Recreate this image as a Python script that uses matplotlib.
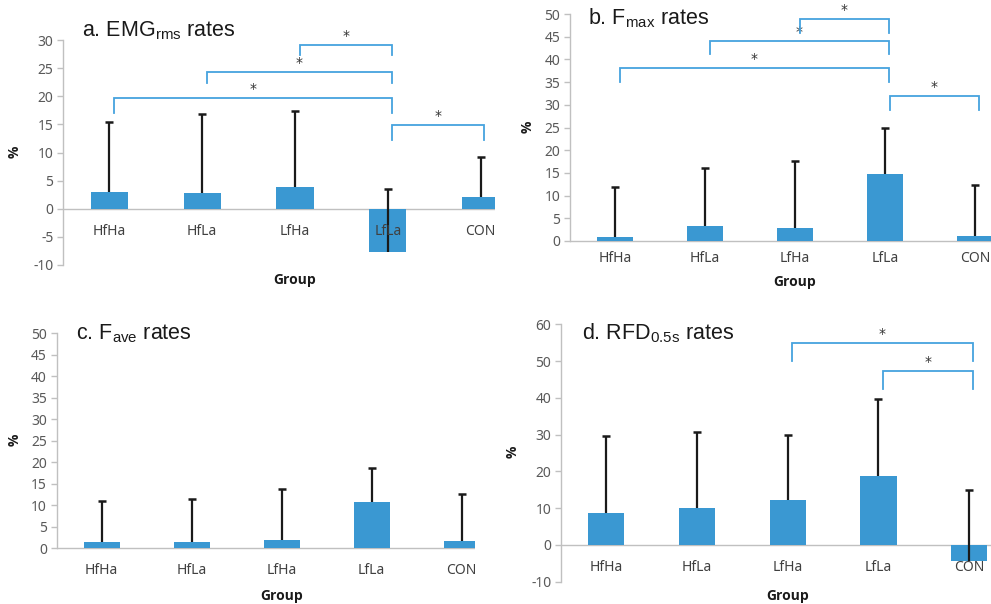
import matplotlib
matplotlib.use("Agg")
import matplotlib.pyplot as plt
import matplotlib.patches as mpatches
import numpy as np

# ---------------- data ----------------
groups = ["HfHa", "HfLa", "LfHa", "LfLa", "CON"]

emg_mean = [3.0, 2.8, 3.8, -7.75, 2.1]
emg_sd = [12.4, 14.0, 13.6, 11.2, 7.1]

fmax_mean = [0.9, 3.3, 2.8, 14.8, 1.0]
fmax_sd = [10.9, 12.8, 14.8, 10.2, 11.4]

fave_mean = [1.4, 1.4, 1.9, 10.7, 1.8]
fave_sd = [9.6, 10.0, 11.8, 7.9, 10.8]

rfd_mean = [8.6, 10.1, 12.2, 18.8, -4.3]
rfd_sd = [21.1, 20.6, 17.7, 20.9, 19.3]

# brackets: (group i, group j, bracket height, leg bottom)
emg_brackets = [(0, 3, 19.7, 17.0), (1, 3, 24.3, 22.4), (2, 3, 29.1, 27.3), (3, 4, 14.9, 12.2)]
fmax_brackets = [(0, 3, 38.2, 35.1), (1, 3, 44.1, 41.1), (2, 3, 49.0, 45.9), (3, 4, 31.9, 28.9)]
fave_brackets = []
rfd_brackets = [(2, 4, 55.0, 50.1), (3, 4, 47.3, 42.4)]

# ---------------- style ----------------
plt.rcParams["mathtext.fontset"] = "custom"
plt.rcParams["mathtext.rm"] = "Liberation Sans"
plt.rcParams["mathtext.it"] = "Liberation Sans:italic"

W, H = 991, 604
BAR = "#3a98d2"
BRK = "#45a3de"
TICKC = "#595959"
AXC = "#c0c0c0"
TICKFONT = "Noto Sans"
BOLDFONT = "Open Sans"

fig = plt.figure(figsize=(W / 100, H / 100), dpi=100)


def fx(px):
    return px / W


def fy(py):
    return 1 - py / H


panels = [
    dict(L=63, S=92.8, R=495, ymax=30, pymax=40, ymin=-10, pymin=265, ticks=np.arange(-10, 31, 5),
         mean=emg_mean, sd=emg_sd, br=emg_brackets, title=r"a. EMG$_{\mathrm{rms}}$ rates",
         tpos=(82, 36), lab_off=23, gy=280, pct=(15, 152)),
    dict(L=570, S=90, R=1020, ymax=50, pymax=14, ymin=0, pymin=241, ticks=np.arange(0, 51, 5),
         mean=fmax_mean, sd=fmax_sd, br=fmax_brackets, title=r"b. F$_{\mathrm{max}}$ rates",
         tpos=(588, 24), lab_off=18, gy=282, pct=(528, 127)),
    dict(L=56.7, S=90, R=475, ymax=50, pymax=333.3, ymin=0, pymin=548.3, ticks=np.arange(0, 51, 5),
         mean=fave_mean, sd=fave_sd, br=fave_brackets, title=r"c. F$_{\mathrm{ave}}$ rates",
         tpos=(76, 339), lab_off=22, gy=596, pct=(15, 440)),
    dict(L=561, S=90.7, R=1014.5, ymax=60, pymax=324.3, ymin=-10, pymin=581.7, ticks=np.arange(-10, 61, 10),
         mean=rfd_mean, sd=rfd_sd, br=rfd_brackets, title=r"d. RFD$_{\mathrm{0.5s}}$ rates",
         tpos=(582, 339), lab_off=23, gy=596, pct=(513, 452)),
]

for p in panels:
    L, S, R = p["L"], p["S"], p["R"]
    full_R = L + 5 * S
    ax = fig.add_axes([fx(L), fy(p["pymin"]), fx(full_R) - fx(L), fy(p["pymax"]) - fy(p["pymin"])])
    ax.set_xlim(-0.5, 4.5)
    ax.set_ylim(p["ymin"], p["ymax"])
    clip_w = (R - L) / (full_R - L)
    ax.patch.set_visible(False)
    x = np.arange(len(groups))
    mean = np.array(p["mean"])
    sd = np.array(p["sd"])
    ax.bar(x, mean, width=0.4, color=BAR, zorder=2)
    ax.axhline(0, color=AXC, lw=1.0, zorder=1)
    ax.vlines(x, mean, mean + sd, color="#1a1a1a", lw=1.6, zorder=3)
    ax.plot(x, mean + sd, ls="none", marker="_", ms=6, mew=1.8, color="#1a1a1a", zorder=3)

    for (i, j, ytop, ybot) in p["br"]:
        xi, xj = i + 0.05, j + 0.04
        ax.plot([xi, xi, xj, xj], [ybot, ytop, ytop, ybot], color=BRK, lw=1.3, zorder=3,
                solid_joinstyle="miter")
        ax.annotate("*", ((xi + xj) / 2, ytop), xytext=(0, 5), textcoords="offset pixels",
                    ha="center", va="baseline", fontsize=10, color="#333333", family="DejaVu Sans",
                    annotation_clip=False)

    clip_rect = mpatches.Rectangle((0, -1), clip_w, 3, transform=ax.transAxes)
    for art in ax.patches + ax.lines + ax.collections:
        art.set_clip_path(clip_rect)

    for sp in ["top", "right", "bottom"]:
        ax.spines[sp].set_visible(False)
    ax.spines["left"].set_color(AXC)
    ax.spines["left"].set_linewidth(1.0)
    ax.set_yticks(p["ticks"])
    ax.set_yticklabels([str(int(t)) for t in p["ticks"]], fontsize=10, color=TICKC, family=TICKFONT)
    ax.tick_params(axis="y", direction="out", length=4, width=1.0, color=AXC, pad=3)
    ax.set_xticks([])

    for i, g in enumerate(groups):
        if L + (i + 0.5) * S < R + 5:
            ax.annotate(g, (i, 0), xytext=(0, -p["lab_off"]), textcoords="offset pixels",
                        ha="center", va="center", fontsize=10, color="#404040", family=TICKFONT,
                        annotation_clip=False)

    fig.text(fx(p["tpos"][0]), fy(p["tpos"][1]), p["title"], fontsize=15.5, family="Liberation Sans",
             ha="left", va="baseline", color="#1a1a1a")
    fig.text(fx((L + full_R) / 2), fy(p["gy"]), "Group", fontsize=10, fontweight="bold",
             family=BOLDFONT, ha="center", va="center", color="#1a1a1a")
    fig.text(fx(p["pct"][0]), fy(p["pct"][1]), "%", fontsize=10, fontweight="bold", rotation=90,
             family=BOLDFONT, ha="center", va="center", color="#1a1a1a")

fig.savefig("out.png", dpi=100)
